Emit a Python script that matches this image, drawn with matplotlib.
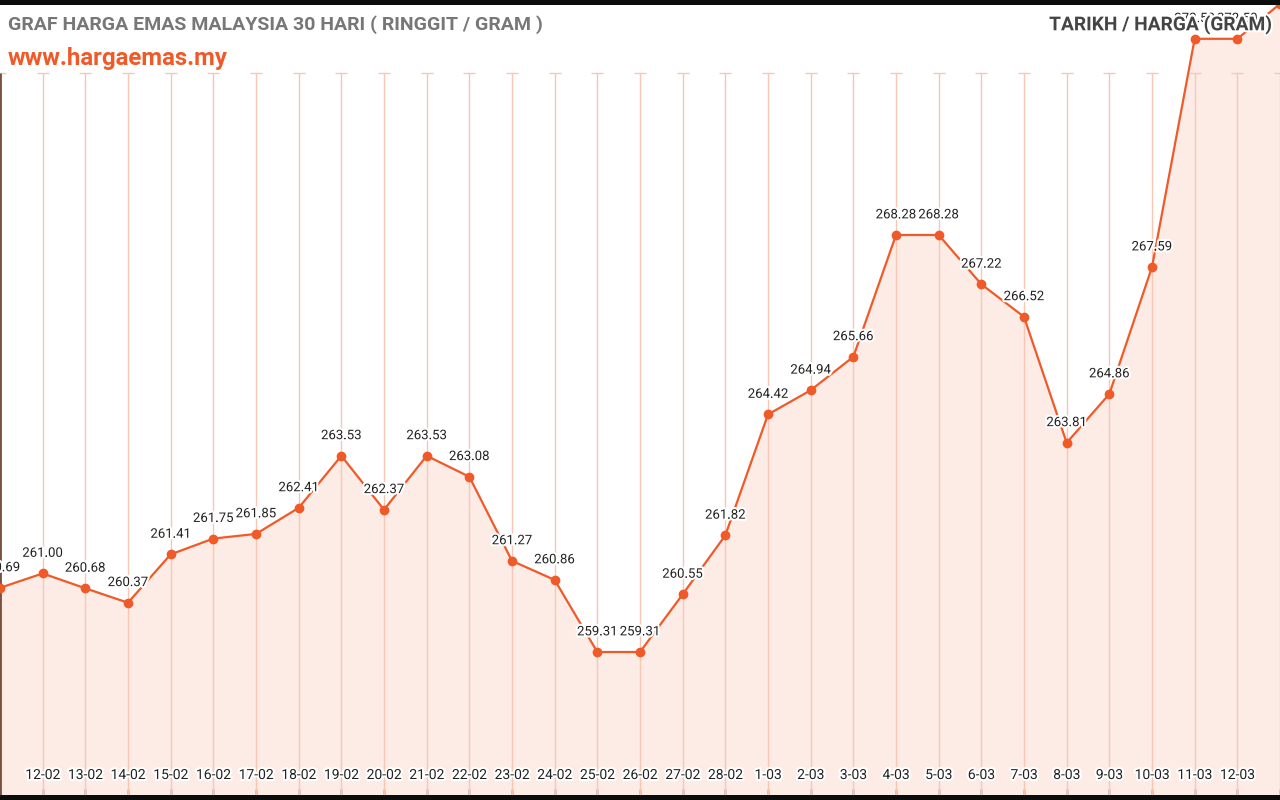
import matplotlib
matplotlib.use("Agg")
import matplotlib.pyplot as plt
import matplotlib.patheffects as pe

plt.rcParams['font.family'] = ['Roboto', 'DejaVu Sans']

dates = ["11-02", "12-02", "13-02", "14-02", "15-02", "16-02", "17-02", "18-02", "19-02",
         "20-02", "21-02", "22-02", "23-02", "24-02", "25-02", "26-02", "27-02", "28-02",
         "1-03", "2-03", "3-03", "4-03", "5-03", "6-03", "7-03", "8-03", "9-03", "10-03",
         "11-03", "12-03", "13-03"]
prices = [260.69, 261.00, 260.68, 260.37, 261.41, 261.75, 261.85, 262.41, 263.53,
          262.37, 263.53, 263.08, 261.27, 260.86, 259.31, 259.31, 260.55, 261.82,
          264.42, 264.94, 265.66, 268.28, 268.28, 267.22, 266.52, 263.81, 264.86, 267.59,
          272.50, 272.50, 273.25]

title_text = "GRAF HARGA EMAS MALAYSIA 30 HARI ( RINGGIT / GRAM )"
site_text = "www.hargaemas.my"
right_text = "TARIKH / HARGA (GRAM)"

LINE = '#f05a28'
FILL = '#fdece6'
GRID = '#f9c6b4'

W, H = 1280, 800
fig = plt.figure(figsize=(W / 100, H / 100), dpi=100, facecolor='#0c0c0c')
ax = fig.add_axes([0, 5 / H, 1, 790 / H])
ax.set_facecolor('white')

x = list(range(len(dates)))
px_per_day = 42.69
ax.set_xlim(0, W / px_per_day)
ppu = 46.49
y_bottom = 259.31 - (795 - 652) / ppu
y_top = 259.31 + (652 - 5) / ppu
ax.set_ylim(y_bottom, y_top)

for s in ax.spines.values():
    s.set_visible(False)
ax.set_yticks([])
ax.set_xticks(x)
ax.set_xticklabels([])
ax.tick_params(axis='x', direction='in', length=4, width=1, color='#333333')

ax.fill_between(x, prices, y_bottom, color=FILL, zorder=1, linewidth=0)

grid_top = (795 - 73) / 790
trans = ax.get_xaxis_transform()
ax.vlines(x, 0, grid_top, transform=trans, color=GRID, linewidth=1, zorder=2)
ax.plot(x, [grid_top] * len(x), linestyle='none', marker='_', markersize=9,
        markeredgewidth=1, color=GRID, transform=trans, zorder=2)
ax.vlines([0], 0, grid_top, transform=trans, color='#7a5040', linewidth=2, zorder=3)

ax.plot(x, prices, color=LINE, linewidth=1.6, zorder=4, marker='o', markersize=6,
        markerfacecolor=LINE, markeredgecolor=LINE)

halo = [pe.withStroke(linewidth=3, foreground='white')]
for xi, p in zip(x[:-1], prices[:-1]):
    ax.annotate(f"{p:.2f}", (xi, p), xytext=(0, 14.5), textcoords='offset points',
                ha='center', va='center', fontsize=9.5, color='#222222',
                path_effects=halo, zorder=5)

tick_y = (795 - 775) / 790
for xi, d in zip(x[1:-1], dates[1:-1]):
    ax.text(xi, tick_y, d, transform=trans, ha='center', va='center',
            fontsize=10, color='#222222', path_effects=halo, zorder=5)

fig.text(8 / W, 1 - 25 / H, title_text, ha='left', va='center', fontsize=14,
         fontweight='bold', color='#777777', zorder=10)
fig.text(8 / W, 1 - 58 / H, site_text, ha='left', va='center', fontsize=17.3,
         fontweight='bold', color=LINE, zorder=10)
fig.text(1271 / W, 1 - 25 / H, right_text, ha='right', va='center', fontsize=13.8,
         fontweight='bold', color='#444444', zorder=10,
         path_effects=[pe.withStroke(linewidth=3, foreground='white')])

fig.savefig("out.png", dpi=100, facecolor=fig.get_facecolor())
